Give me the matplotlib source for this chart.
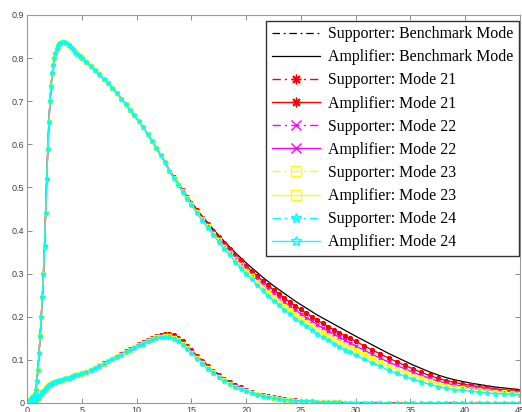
import matplotlib
matplotlib.use("Agg")
import matplotlib.pyplot as plt

# time samples (denser where the curves change fast)
t_rise = [0.0, 0.1, 0.2, 0.3, 0.4, 0.5, 0.6, 0.7, 0.8, 0.9, 1.0, 1.1, 1.2, 1.3, 1.4, 1.5,
          1.6, 1.7, 1.8, 1.9, 2.0, 2.1, 2.2, 2.3, 2.4, 2.5, 2.6, 2.7, 2.8, 2.9, 3.0]
t_peak = [3.2, 3.4, 3.6, 3.8, 4.0, 4.2, 4.4, 4.6, 4.8, 5.0]
t_mid = [5.4, 5.8, 6.2, 6.6, 7.0, 7.4, 7.8, 8.2, 8.6, 9.0, 9.4, 9.8, 10.2, 10.6, 11.0,
         11.4, 11.8, 12.2, 12.6, 13.0, 13.4, 13.8, 14.2, 14.6, 15.0]
t_late = [15.5, 16.0, 16.5, 17.0, 17.5, 18.0, 18.5, 19.0, 19.5, 20.0, 20.5, 21.0, 21.5, 22.0,
          22.5, 23.0, 23.5, 24.0, 24.5, 25.0, 25.5, 26.0, 26.5, 27.0, 27.5, 28.0, 28.5, 29.0,
          29.5, 30.0]
t_tail = [30.75, 31.5, 32.25, 33.0, 33.75, 34.5, 35.25, 36.0, 36.75, 37.5, 38.25, 39.0,
          39.75, 40.5, 41.25, 42.0, 42.75, 43.5, 44.25, 45.0]
t = t_rise + t_peak + t_mid + t_late + t_tail

# Amplifier: same for every mode up to t = 12.6
amp_head = [0.000, 0.002, 0.004, 0.007, 0.010, 0.013, 0.017, 0.021, 0.031, 0.051, 0.077,
            0.117, 0.155, 0.200, 0.245, 0.300, 0.365, 0.440, 0.520, 0.590, 0.651, 0.700,
            0.736, 0.765, 0.783, 0.800, 0.811, 0.820, 0.827, 0.832, 0.836,
            0.838, 0.838, 0.835, 0.831, 0.826, 0.821, 0.815, 0.810, 0.805, 0.800,
            0.791, 0.782, 0.772, 0.762, 0.752, 0.742, 0.731, 0.719, 0.706, 0.693, 0.680,
            0.667, 0.653, 0.640, 0.624, 0.608, 0.591, 0.575, 0.558]
# Amplifier from t = 13.0 on
amp_bench = [.540, .525, .510, .495, .480, .466,
             .449, .433, .418, .403, .389, .375, .362, .349, .337, .325, .314, .303, .292, .282,
             .272, .263, .254, .245, .236, .228, .220, .212, .204, .197, .190, .183, .176, .169,
             .162, .155,
             .145, .135, .125, .115, .106, .097, .088, .080, .072, .065, .059, .054, .050, .046,
             .043, .040, .037, .035, .033, .031]
amp_21 = [.539, .524, .509, .494, .478, .464,
          .447, .430, .415, .399, .385, .370, .357, .343, .331, .318, .306, .295, .283, .273,
          .262, .253, .243, .234, .225, .217, .208, .200, .192, .185, .177, .170, .163, .156,
          .150, .143,
          .133, .123, .114, .104, .096, .087, .079, .071, .064, .057, .052, .048, .044, .041,
          .038, .036, .033, .031, .029, .028]
amp_22 = [.538, .523, .508, .492, .477, .462,
          .445, .428, .412, .396, .381, .366, .352, .338, .325, .312, .300, .288, .276, .265,
          .254, .244, .234, .225, .215, .207, .198, .190, .181, .174, .167, .160, .153, .146,
          .139, .132,
          .123, .113, .104, .095, .087, .079, .071, .064, .057, .051, .046, .042, .039, .036,
          .034, .032, .029, .028, .026, .025]
amp_23 = [.538, .522, .507, .491, .476, .461,
          .443, .426, .410, .393, .378, .362, .348, .333, .320, .306, .294, .281, .269, .257,
          .246, .236, .226, .216, .206, .197, .189, .180, .171, .164, .156, .149, .142, .135,
          .129, .122,
          .113, .104, .095, .086, .078, .071, .063, .057, .050, .045, .040, .037, .034, .032,
          .030, .028, .026, .025, .023, .022]
amp_24 = [.537, .521, .506, .490, .474, .459,
          .441, .423, .407, .390, .374, .358, .343, .328, .314, .300, .287, .274, .261, .249,
          .237, .227, .216, .206, .196, .187, .178, .169, .160, .153, .145, .138, .131, .124,
          .118, .111,
          .102, .093, .085, .076, .069, .062, .055, .049, .043, .038, .034, .031, .029, .027,
          .025, .024, .022, .021, .020, .019]

# Supporter: shared start (t <= 5.8), per mode middle (6.2 .. 25), shared tail
sup_head = [0.000, 0.000, 0.001, 0.001, 0.002, 0.003, 0.004, 0.006, 0.008, 0.010, 0.012,
            0.015, 0.018, 0.021, 0.025, 0.028, 0.031, 0.034, 0.037, 0.039, 0.041, 0.043,
            0.044, 0.046, 0.047, 0.048, 0.049, 0.050, 0.051, 0.052, 0.053,
            0.054, 0.056, 0.057, 0.059, 0.060, 0.062, 0.064, 0.065, 0.067, 0.069,
            0.073, 0.077]
sup_bench = [.082, .087, .092, .098, .103, .109, .114, .120, .126, .131, .137, .142, .147,
             .152, .156, .159, .161, .161, .158, .152, .144, .134, .124,
             .111, .099, .087, .076, .066, .057, .049, .042, .036, .031, .026, .022, .019,
             .016, .013, .011, .009, .008, .006, .005]
sup_21 = [.082, .087, .092, .098, .103, .109, .114, .120, .126, .131, .137, .142, .147,
          .151, .155, .158, .160, .160, .157, .151, .143, .133, .123,
          .110, .098, .086, .075, .065, .056, .048, .042, .036, .031, .026, .022, .019,
          .016, .013, .011, .009, .008, .006, .005]
sup_22 = [.082, .087, .092, .098, .102, .108, .113, .119, .125, .130, .136, .140, .145,
          .150, .154, .156, .157, .157, .154, .148, .140, .130, .120,
          .107, .095, .084, .073, .063, .054, .047, .040, .034, .029, .024, .021, .018,
          .015, .012, .010, .009, .008, .006, .005]
sup_23 = [.082, .087, .091, .097, .102, .108, .112, .118, .124, .129, .135, .139, .144,
          .148, .152, .154, .155, .155, .151, .145, .137, .127, .117,
          .105, .093, .081, .071, .061, .053, .045, .038, .033, .028, .023, .020, .017,
          .015, .012, .010, .008, .007, .005, .005]
sup_24 = [.082, .086, .091, .097, .101, .107, .112, .118, .124, .128, .134, .138, .143,
          .147, .150, .152, .153, .152, .149, .143, .135, .125, .115,
          .103, .091, .080, .069, .060, .051, .044, .037, .032, .027, .023, .019, .017,
          .014, .011, .010, .008, .007, .005, .004]
sup_tail = [.004, .004, .003, .003, .002, .002, .002, .001, .001, .001,
            .001, .001, .001, .000, .000, .000, .000, .000, .000, .000,
            .000, .000, .000, .000, .000, .000, .000, .000, .000, .000]

modes = ["21", "22", "23", "24"]
mode_colors = ["#ff0000", "#ff00ff", "#ffff00", "#00ffff"]
mode_markers = [(8, 2, 0), "x", "s", "*"]
sup_modes = [sup_21, sup_22, sup_23, sup_24]
amp_modes = [amp_21, amp_22, amp_23, amp_24]

dashdot = (0, (6, 3, 1.5, 3))

fig = plt.figure(figsize=(5.22, 4.12), dpi=100)
ax = fig.add_axes([27 / 522, 9 / 412, 493 / 522, 388 / 412])

ax.plot(t, sup_head + sup_bench + sup_tail, color="black", lw=0.9, linestyle=dashdot,
        label="Supporter: Benchmark Mode")
ax.plot(t, amp_head + amp_bench, color="black", lw=0.9, label="Amplifier: Benchmark Mode")
for m, c, mk, s, a in zip(modes, mode_colors, mode_markers, sup_modes, amp_modes):
    ax.plot(t, sup_head + s + sup_tail, color=c, lw=1.0, linestyle=dashdot, marker=mk,
            markersize=3.5, markerfacecolor="none", markeredgewidth=1.0,
            label="Supporter: Mode " + m)
    ax.plot(t, amp_head + a, color=c, lw=1.0, marker=mk, markersize=3.5,
            markerfacecolor="none", markeredgewidth=1.0, label="Amplifier: Mode " + m)

ax.set_xlim(0, 45)
ax.set_ylim(0, 0.9)
ax.set_xticks([0, 5, 10, 15, 20, 25, 30, 35, 40, 45])
ax.set_xticklabels(["0", "5", "10", "15", "20", "25", "30", "35", "40", "45"])
ax.set_yticks([0, 0.1, 0.2, 0.3, 0.4, 0.5, 0.6, 0.7, 0.8, 0.9])
ax.set_yticklabels(["0", "0.1", "0.2", "0.3", "0.4", "0.5", "0.6", "0.7", "0.8", "0.9"])
ax.tick_params(direction="in", top=True, right=True, length=3.5, width=0.7,
               color="#8c8c8c", labelcolor="#404040", labelsize=6.5, pad=2)
for tl in ax.get_xticklabels() + ax.get_yticklabels():
    tl.set_family("Liberation Sans")
for sp in ax.spines.values():
    sp.set_color("#9a9a9a")
    sp.set_linewidth(0.8)

leg = ax.legend(loc="upper right", bbox_to_anchor=(519 / 522, 1 - 20.5 / 412),
                bbox_transform=fig.transFigure, borderaxespad=0,
                prop={"family": "Liberation Serif", "size": 11.4}, handlelength=3.05,
                handletextpad=0.5, labelspacing=0.45, numpoints=1, fancybox=False,
                framealpha=1.0, borderpad=0.36)
leg.get_frame().set_edgecolor("#333333")
leg.get_frame().set_linewidth(1.0)
for h in leg.legend_handles:
    h.set_markersize(7)

fig.savefig("out.png", dpi=100)
